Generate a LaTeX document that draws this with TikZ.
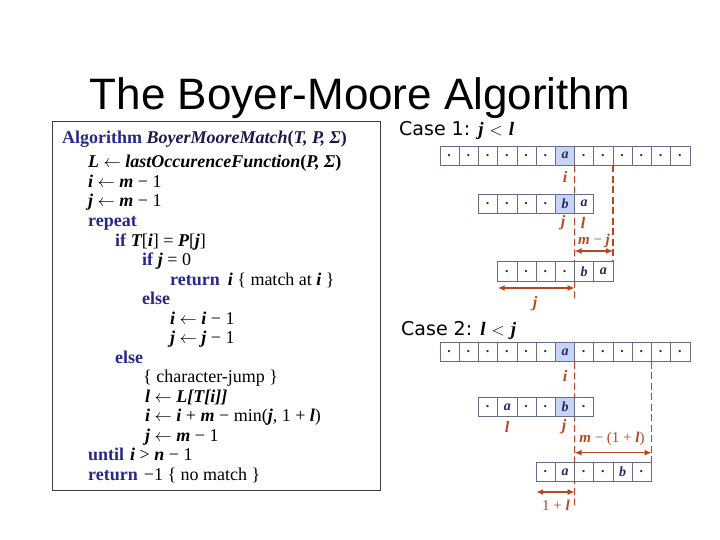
\documentclass[tikz,border=0pt]{standalone}
\usepackage{fontspec}
\setmainfont{Liberation Serif}
\newfontfamily\titlefont{Liberation Sans}
\newfontfamily\casefont{DejaVu Sans}
\usetikzlibrary{arrows.meta,calc}
\definecolor{navy}{RGB}{40,40,140}
\definecolor{navyd}{RGB}{25,25,80}
\definecolor{rust}{RGB}{185,70,35}
\definecolor{cellb}{RGB}{100,110,140}
\definecolor{hlblue}{RGB}{200,212,245}
\definecolor{celltext}{RGB}{40,40,100}
\newcommand\myv[1]{{\rmfamily\bfseries\itshape #1}}
\newcommand\mykw[1]{\textcolor{navy}{\textbf{#1}}}
\newcommand\lar{\ensuremath{\leftarrow}}
\newcommand\cellrow[4]{%
  \foreach \t/\s [count=\k from #2] in {#4} {%
    \node[cell,\s] (#1-\k) at ({440+19.23*(\k+0.5)},#3) {\t};
  }}
\begin{document}
\begin{tikzpicture}[x=1pt,y=-1pt,
  algl/.style={anchor=base west,inner sep=0pt,font=\fontsize{18}{18}\selectfont},
  cell/.style={draw=cellb,fill=white,minimum width=19.23pt,minimum height=19.5pt,
    inner sep=0pt,outer sep=0pt,line width=0.8pt,text=celltext,
    font=\fontsize{14}{14}\selectfont\bfseries\itshape},
  hl/.style={fill=hlblue},
  nl/.style={},
  lab/.style={text=rust,inner sep=0pt,font=\fontsize{16}{16}\selectfont\bfseries\itshape},
  labn/.style={text=rust,inner sep=0pt,font=\fontsize{15}{15}\selectfont},
  cutline/.style={draw=rust,dash pattern=on 7pt off 3.5pt,line width=1.2pt},
  spanarrow/.style={draw=rust,line width=1.2pt,{Latex[length=7pt,width=6pt]}-{Latex[length=7pt,width=6pt]}},
  casel/.style={anchor=base west,inner sep=0pt,font=\fontsize{19}{19}\selectfont}
]
\path (0,0) rectangle (720,540);
% title
\node[anchor=base,inner sep=0pt,font=\titlefont\fontsize{44}{44}\selectfont] (title) at (360,110) {The Boyer-Moore Algorithm};
% algorithm box
\draw[draw=black!75,line width=0.9pt] (52,121) rectangle (380,490);
\node[algl] (l0) at (62,144) {\mykw{Algorithm} \textcolor{navyd}{\textbf{\textit{BoyerMooreMatch}(\textit{T, P, Σ})}}};
\node[algl] (l1) at (88,168) {\myv{L} \lar{} \myv{lastOccurenceFunction}\textbf{(}\myv{P, Σ}\textbf{)}};
\node[algl] (l2) at (88,187.5) {\myv{i} \lar{} \myv{m} − 1};
\node[algl] (l3) at (88,207) {\myv{j} \lar{} \myv{m} − 1};
\node[algl] (l4) at (88,226.5) {\mykw{repeat}};
\node[algl] (l5) at (115,246) {\mykw{if} \myv{T}[\myv{i}] = \myv{P}[\myv{j}]};
\node[algl] (l6) at (142,265.5) {\mykw{if} \myv{j} = 0};
\node[algl] (l7) at (170,285) {\mykw{return}\hspace{8pt}\myv{i} \{ match at \myv{i} \}};
\node[algl] (l8) at (142,304.5) {\mykw{else}};
\node[algl] (l9) at (170,324) {\myv{i} \lar{} \myv{i} − 1};
\node[algl] (l10) at (170,343.5) {\myv{j} \lar{} \myv{j} − 1};
\node[algl] (l11) at (115,363) {\mykw{else}};
\node[algl] (l12) at (143,382.5) {\{ character-jump \}};
\node[algl] (l13) at (145,402) {\myv{l} \lar{} \myv{L[T[i]]}};
\node[algl] (l14) at (145,421.5) {\myv{i} \lar{} \myv{i} + \myv{m} − min(\myv{j}, 1 + \myv{l})};
\node[algl] (l15) at (145,441) {\myv{j} \lar{} \myv{m} − 1};
\node[algl] (l16) at (88,460.5) {\mykw{until}\hspace{6pt}\myv{i} > \myv{n} − 1};
\node[algl] (l17) at (88,480) {\mykw{return}\hspace{6pt}−1 \{ no match \}};
% ---------- Case 1 ----------
\node[casel] (case1) at (399,136) {\casefont Case 1: \myv{j} $<$ \myv{l}};
\coordinate (c1d1) at (574.6,301);
\coordinate (c1arrR) at (613.0,251);
\coordinate (c1arrL) at (574.6,251);
\coordinate (c1jL) at (497.7,288);
\coordinate (c1jR) at (574.6,288);
\cellrow{c1t}{0}{155.7}{./nl,./nl,./nl,./nl,./nl,./nl,a/hl,./nl,./nl,./nl,./nl,./nl,./nl}
\draw[cutline] (c1t-6.south east) -- (c1d1);
\draw[cutline] (c1t-8.south east) -- ++(0,97);
\cellrow{c1m}{2}{203.7}{./nl,./nl,./nl,./nl,b/hl,a/nl}
\cellrow{c1b}{3}{271.5}{./nl,./nl,./nl,./nl,b/nl,a/nl}
\node[lab] (c1i) at (565,177) {i};
\node[lab] (c1j) at (563,223) {j};
\node[lab] (c1l) at (583,223) {l};
\node[labn] (c1mj) at (594,240.5) {\myv{m} − \myv{j}};
\draw[spanarrow] (c1arrL) -- (c1arrR);
\draw[spanarrow] (c1jL) -- (c1jR);
\node[lab] (c1jb) at (535,304) {j};
% ---------- Case 2 ----------
\node[casel] (case2) at (401,335) {\casefont Case 2: \myv{l} $<$ \myv{j}};
\coordinate (c2d1) at (574.6,508);
\coordinate (c2arrL) at (574.6,452.7);
\coordinate (c2arrR) at (651.5,452.7);
\coordinate (c2lL) at (536.2,492);
\coordinate (c2lR) at (574.6,492);
\cellrow{c2t}{0}{352}{./nl,./nl,./nl,./nl,./nl,./nl,a/hl,./nl,./nl,./nl,./nl,./nl,./nl}
\draw[cutline] (c2t-6.south east) -- (c2d1);
\draw[cutline] (c2t-10.south east) -- ++(0,101);
\cellrow{c2m}{2}{407}{./nl,a/nl,./nl,./nl,b/hl,./nl}
\cellrow{c2b}{5}{472}{./nl,a/nl,./nl,./nl,b/nl,./nl}
\node[lab] (c2i) at (565,376) {i};
\node[lab] (c2l) at (507,427) {l};
\node[lab] (c2j) at (564,427) {j};
\node[labn] (c2m) at (612,439) {\myv{m} − (1 + \myv{l})};
\draw[spanarrow] (c2arrL) -- (c2arrR);
\draw[spanarrow] (c2lL) -- (c2lR);
\node[labn] (c2one) at (556,505) {1 + \myv{l}};
\end{tikzpicture}
\end{document}
